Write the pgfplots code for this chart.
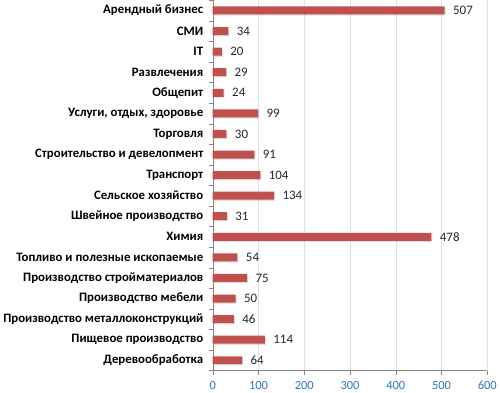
\documentclass[border=0pt]{standalone}
\usepackage{fontspec}
\setmainfont{Carlito}
\usepackage{pgfplots}
\usetikzlibrary{shadows}
\pgfplotsset{compat=1.18}
\definecolor{barred}{RGB}{192,80,77}
\definecolor{tickblue}{RGB}{45,117,190}
\definecolor{gridc}{RGB}{217,225,235}
\definecolor{axisc}{RGB}{134,134,134}
\begin{document}
\begin{tikzpicture}
\begin{axis}[
  scale only axis,
  width=275bp, height=371bp,
  xbar, bar width=8bp,
  xmin=0, xmax=600,
  ymin=-0.5, ymax=17.5,
  y dir=reverse,
  axis lines*=left,
  axis line style={axisc},
  xtick={0,100,...,600},
  xmajorgrids, major grid style={gridc},
  ytick={0,...,17},
  minor ytick={-0.5,0.5,...,17.5},
  major tick length=4bp,
  minor tick length=4bp,
  tick style={axisc},
  every major y tick/.append style={draw=none},
  tick align=outside,
  yticklabels={Арендный бизнес,СМИ,IT,Развлечения,Общепит,{Услуги, отдых, здоровье},Торговля,Строительство и девелопмент,Транспорт,Сельское хозяйство,Швейное производство,Химия,Топливо и полезные ископаемые,Производство стройматериалов,Производство мебели,Производство металлоконструкций,Пищевое производство,Деревообработка},
  yticklabel style={font=\fontsize{12.9}{14}\selectfont\bfseries, xshift=-2bp},
  xticklabel style={font=\fontsize{12.5}{14}\selectfont, text=tickblue, yshift=-3bp},
  /pgf/number format/assume math mode=true,
  nodes near coords,
  nodes near coords style={font=\fontsize{13}{15}\selectfont, text=black!85, xshift=5bp},
  every node near coord/.append style={anchor=west},
]
\addplot[fill=barred, draw=none, drop shadow={opacity=0.25, shadow xshift=1bp, shadow yshift=-1.2bp}] coordinates {
(507,0) (34,1) (20,2) (29,3) (24,4) (99,5) (30,6) (91,7) (104,8) (134,9) (31,10) (478,11) (54,12) (75,13) (50,14) (46,15) (114,16) (64,17)
};
\end{axis}
\end{tikzpicture}
\end{document}
